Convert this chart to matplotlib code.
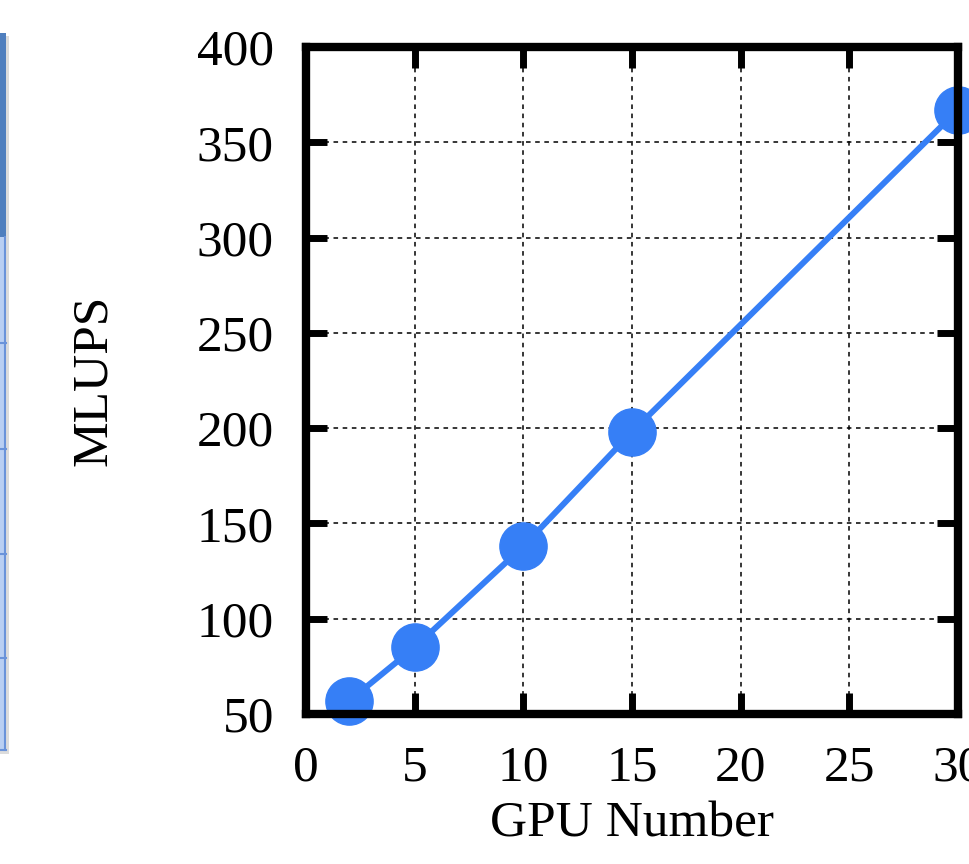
import matplotlib
matplotlib.use('Agg')
from matplotlib import pyplot as plt
from matplotlib.patches import Rectangle

# 读图估计的数据
gpus = [2, 5, 10, 15, 30]
mlups = [57, 85, 138, 198, 367]
xticks = [0, 5, 10, 15, 20, 25, 30]
yticks = [50, 100, 150, 200, 250, 300, 350, 400]

plt.rcParams['font.family'] = ['Liberation Serif', 'DejaVu Serif']

fig = plt.figure(figsize=(9.7, 8.64), dpi=100)

# 左边截图里残留的表格边缘 (像素坐标)
bg = fig.add_axes([0, 0, 1, 1])
bg.set_xlim(0, 970)
bg.set_ylim(864, 0)
bg.axis('off')
bg.add_patch(Rectangle((0, 36), 9, 718, color='#dcdcdc', lw=0))
bg.add_patch(Rectangle((0, 33), 6, 204, color='#4f7fbe', lw=0))
bg.add_patch(Rectangle((0, 237), 6, 513, color='#b9cff3', lw=0))
bg.plot([5.5, 5.5], [237, 750], color='#6a93da', lw=1.5)
bg.plot([0, 6], [750, 750], color='#6a93da', lw=1.5)
for yy in [343, 449, 554, 658]:
    bg.plot([0, 6], [yy, yy], color='#6a93da', lw=1.5)

ax = fig.add_axes([306 / 970, 150 / 864, 652 / 970, 667 / 864])
ax.plot(gpus, mlups, '-o', color='#367ff6', lw=4.3, ms=34, clip_on=False)

ax.set_xlim(0, 30)
ax.set_ylim(50, 400)
ax.set_xticks(xticks)
ax.set_yticks(yticks)
ax.grid(True, color='black', ls=(0, (3, 3)), lw=1.1)

for s in ax.spines.values():
    s.set_linewidth(6)
ax.tick_params(direction='in', length=15, width=5, top=True, right=True,
               labelsize=37)
ax.tick_params(axis='x', pad=22)
ax.tick_params(axis='y', pad=23)

ax.set_xlabel('GPU Number', fontsize=37)
ax.xaxis.set_label_coords(0.5, -0.13)
ax.set_ylabel('MLUPS', fontsize=37)
ax.yaxis.set_label_coords(-0.29, 0.5)

plt.savefig('out.png', dpi=100)
